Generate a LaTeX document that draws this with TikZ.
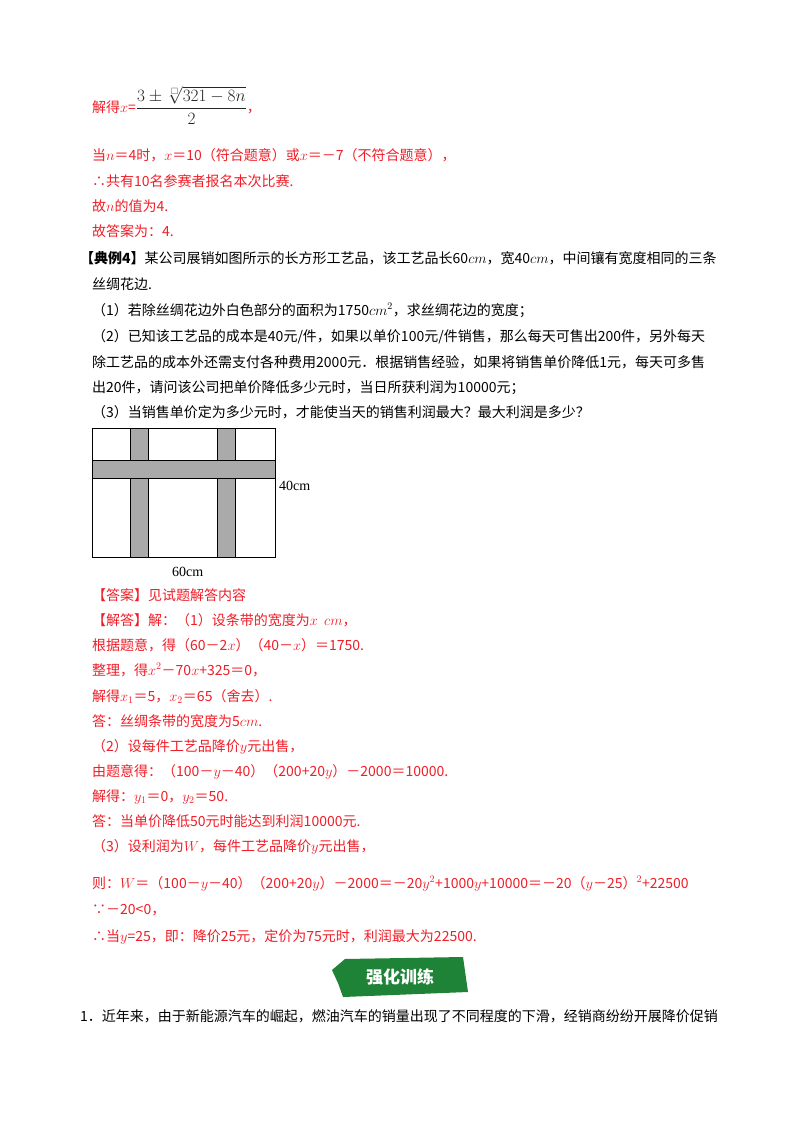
\documentclass[tikz,border=0pt]{standalone}
\usepackage{amsmath,amssymb}
\usepackage{fontspec}
\setmainfont{Noto Sans CJK SC}
\newfontfamily\latin{Liberation Serif}
\usetikzlibrary{positioning}
\definecolor{ansred}{RGB}{240,30,40}
\definecolor{badgegreen}{RGB}{30,130,55}
\definecolor{ribbongray}{RGB}{170,170,170}
\begin{document}
\begin{tikzpicture}[x=1pt, y=-1pt,
  every node/.style={inner sep=0pt, font=\fontsize{14}{16}\selectfont},
  ans/.style={text=ansred, anchor=base west},
  txt/.style={text=black, anchor=base west}]
  \useasboundingbox[fill=white] (0,0) rectangle (800,1132);

  % Previous solution
  \node[ans] (l1) at (92,112) {解得$x$=\raisebox{-1pt}{\fontsize{18}{20}\selectfont\color{black!85}$\dfrac{3\pm\sqrt[\square]{321-8n}}{2}$}，};
  \node[ans] (l2) at (92,160) {当$n$＝4时，$x$＝10（符合题意）或$x$＝－7（不符合题意），};
  \node[ans] (l3) at (92,186) {∴共有10名参赛者报名本次比赛.};
  \node[ans] (l4) at (92,211) {故$n$的值为4.};
  \node[ans] (l5) at (92,236) {故答案为：4.};

  % Problem statement
  \node[txt] (p1) at (80,263) {\textbf{【典例4】}某公司展销如图所示的长方形工艺品，该工艺品长60$cm$，宽40$cm$，中间镶有宽度相同的三条};
  \node[txt] (p2) at (92,289) {丝绸花边.};
  \node[txt] (p3) at (92,315) {（1）若除丝绸花边外白色部分的面积为1750$cm^2$，求丝绸花边的宽度；};
  \node[txt] (p4) at (92,341) {（2）已知该工艺品的成本是40元/件，如果以单价100元/件销售，那么每天可售出200件，另外每天};
  \node[txt] (p5) at (92,367) {除工艺品的成本外还需支付各种费用2000元．根据销售经验，如果将销售单价降低1元，每天可多售};
  \node[txt] (p6) at (92,392) {出20件，请问该公司把单价降低多少元时，当日所获利润为10000元；};
  \node[txt] (p7) at (92,417) {（3）当销售单价定为多少元时，才能使当天的销售利润最大？最大利润是多少？};

  % Figure: rectangle with three ribbons
  \coordinate (tl) at (92,428);
  \coordinate (br) at (275,557);
  \fill[ribbongray] (130,428) rectangle (148,557);
  \fill[ribbongray] (217,428) rectangle (235,557);
  \fill[ribbongray] (92,460) rectangle (275,478);
  \draw[thick] (130,428) -- (130,460) (148,428) -- (148,460)
               (130,478) -- (130,557) (148,478) -- (148,557)
               (217,428) -- (217,460) (235,428) -- (235,460)
               (217,478) -- (217,557) (235,478) -- (235,557)
               (92,460) -- (275,460) (92,478) -- (275,478);
  \draw[thick] (tl) rectangle (br);
  \node[txt, font=\latin\fontsize{14}{16}\selectfont] (h) at (279,490) {40cm};
  \node[txt, font=\latin\fontsize{14}{16}\selectfont] (w) at (172,576) {60cm};

  % Solution
  \node[ans] (s1) at (92,600) {【答案】见试题解答内容};
  \node[ans] (s2) at (92,625) {【解答】解：（1）设条带的宽度为$x$\ \ $cm$，};
  \node[ans] (s3) at (92,650) {根据题意，得（60－2$x$）（40－$x$）＝1750.};
  \node[ans] (s4) at (92,675) {整理，得$x^2$－70$x$+325＝0，};
  \node[ans] (s5) at (92,701) {解得$x_1$＝5，$x_2$＝65（舍去）.};
  \node[ans] (s6) at (92,726) {答：丝绸条带的宽度为5$cm$.};
  \node[ans] (s7) at (92,751) {（2）设每件工艺品降价$y$元出售，};
  \node[ans] (s8) at (92,776) {由题意得：（100－$y$－40）（200+20$y$）－2000＝10000.};
  \node[ans] (s9) at (92,801) {解得：$y_1$＝0，$y_2$＝50.};
  \node[ans] (s10) at (92,826) {答：当单价降低50元时能达到利润10000元.};
  \node[ans] (s11) at (92,851) {（3）设利润为$W$，每件工艺品降价$y$元出售，};
  \node[ans] (s12) at (92,888) {则：$W$＝（100－$y$－40）（200+20$y$）－2000＝－20$y^2$+1000$y$+10000＝－20（$y$－25）$^2$+22500};
  \node[ans] (s13) at (92,914) {∵－20<0，};
  \node[ans] (s14) at (92,941) {∴当$y$=25，即：降价25元，定价为75元时，利润最大为22500.};

  % Badge
  \fill[badgegreen] (345,959) -- (463,957) -- (468,992) -- (343,997)
    -- (338,983) -- (332,970) -- cycle;
  \node[text=white, font=\fontsize{17}{18}\selectfont\bfseries] (badge) at (400,977) {强化训练};

  % Next exercise
  \node[txt] (q1) at (80,1021) {1．近年来，由于新能源汽车的崛起，燃油汽车的销量出现了不同程度的下滑，经销商纷纷开展降价促销};
\end{tikzpicture}
\end{document}
